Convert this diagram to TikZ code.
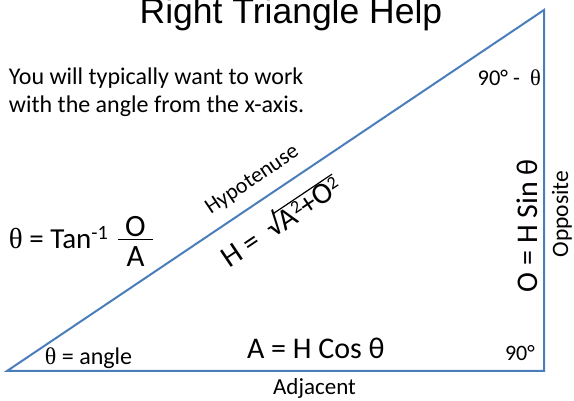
\documentclass[tikz,border=0pt]{standalone}
\usepackage{fontspec}
\setmainfont{Carlito}
\newfontfamily\titlefont{Liberation Sans}
\newfontfamily\thfont{Liberation Serif}
\newcommand{\thsym}{{\thfont θ}}
\newcommand{\supr}[1]{\raisebox{8pt}{\fontsize{18}{20}\selectfont #1}}
\newcommand{\radic}[1]{√\kern-0.8pt\vbox{\hrule height 1.2pt\kern 1pt\hbox{#1}}}
\definecolor{triblue}{HTML}{4A7EBB}
\tikzset{
  txt/.style={inner sep=0pt, outer sep=0pt, text=black},
  triline/.style={draw=triblue, line width=2pt},
}
\begin{document}
\begin{tikzpicture}[x=1pt,y=-1pt]
\useasboundingbox (0,0) rectangle (574,401);
% vertices
\coordinate (A) at (7,371);
\coordinate (B) at (544,371);
\coordinate (C) at (544,10);
\draw[triline] (A) -- (B) -- (C) -- cycle;

% title
\node[txt, anchor=base, font=\titlefont\fontsize{35.5}{40}\selectfont] (title) at (291,24) {Right Triangle Help};

% note
\node[txt, anchor=base west, font=\fontsize{24}{28}\selectfont] (note1) at (9,85) {You will typically want to work};
\node[txt, anchor=base west, font=\fontsize{24}{28}\selectfont] (note2) at (9,113) {with the angle from the x-axis.};

% top angle
\node[txt, anchor=base east, font=\fontsize{22.5}{26}\selectfont] (topang) at (541,86) {90° -\ \ \thsym};

% bottom right angle
\node[txt, anchor=base west, font=\fontsize{22}{26}\selectfont] (rang) at (505,360) {90°};

% theta = angle
\node[txt, anchor=base west, font=\fontsize{24}{28}\selectfont] (angle) at (45,365) {\thsym\ = angle};

% hypotenuse
\node[txt, anchor=base, rotate=33.9, font=\fontsize{22}{26}\selectfont] (hyp) at (255.4,184.7) {Hypotenuse};
\node[txt, anchor=base west, rotate=33.9, font=\fontsize{30}{36}\selectfont] (hform) at (229,269)
  {H =\ \ \radic{A\supr{2}+O\supr{2}}};

% tan formula
\node[txt, anchor=base west, font=\fontsize{29}{34}\selectfont] (tanf) at (9,249) {\thsym\ = Tan\textsuperscript{-1}};
\node[txt, anchor=base, font=\fontsize{31}{36}\selectfont] (fracO) at (135.5,236.5) {O};
\node[txt, anchor=base, font=\fontsize{31}{36}\selectfont] (fracA) at (135.5,267) {A};
\draw[line width=1.5pt] (118,239.5) -- (153,239.5);

% adjacent
\node[txt, anchor=base west, font=\fontsize{30}{36}\selectfont] (aform) at (247,359) {A = H Cos θ};
\node[txt, anchor=base, font=\fontsize{23}{27}\selectfont] (adj) at (314.5,395) {Adjacent};

% opposite
\node[txt, anchor=base, rotate=90, font=\fontsize{30}{36}\selectfont] (oform) at (537,225.5) {O = H Sin θ};
\node[txt, anchor=base, rotate=90, font=\fontsize{23.5}{27}\selectfont] (opp) at (568,214) {Opposite};
\end{tikzpicture}
\end{document}
